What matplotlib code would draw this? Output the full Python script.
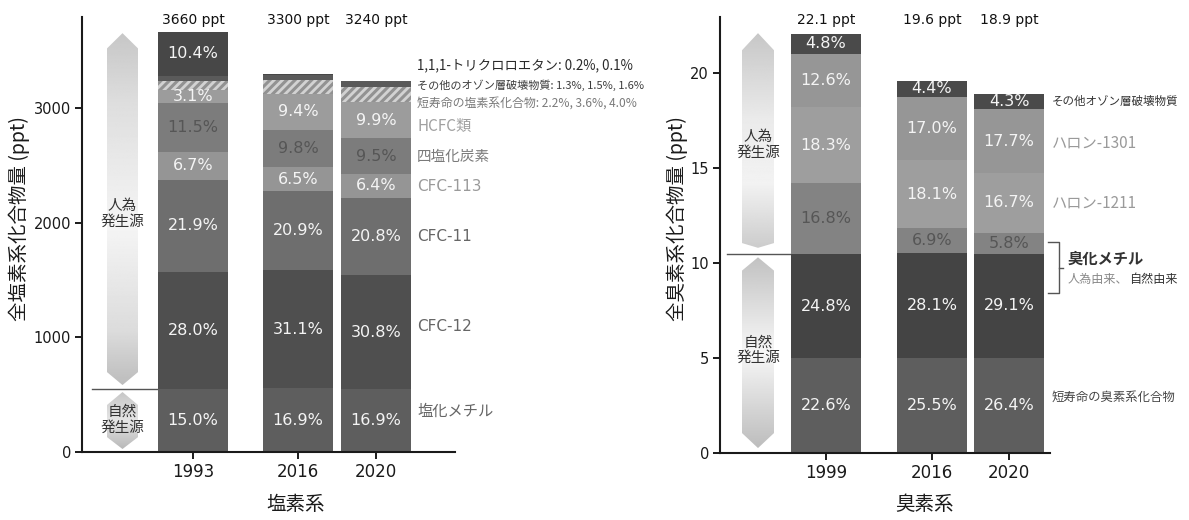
import numpy as np
import matplotlib
matplotlib.use('Agg')
import matplotlib.pyplot as plt
from matplotlib.patches import Polygon

plt.rcParams['font.family'] = ['DejaVu Sans', 'Noto Sans CJK JP']
plt.rcParams['hatch.linewidth'] = 2.2
JP = ['Noto Sans CJK JP', 'DejaVu Sans']

# ---------------- data ----------------
cl_years = ['1993', '2016', '2020']
cl_totals = [3660, 3300, 3240]
cl_methyl_chloride = [15.0, 16.9, 16.9]
cl_cfc12 = [28.0, 31.1, 30.8]
cl_cfc11 = [21.9, 20.9, 20.8]
cl_cfc113 = [6.7, 6.5, 6.4]
cl_ccl4 = [11.5, 9.8, 9.5]
cl_hcfc = [3.1, 9.4, 9.9]
cl_short = [2.2, 3.6, 4.0]
cl_other = [1.3, 1.5, 1.6]
cl_tce = [10.4, 0.2, 0.1]
cl_names = ['塩化メチル', 'CFC-12', 'CFC-11', 'CFC-113', '四塩化炭素', 'HCFC類',
            '短寿命の塩素系化合物', 'その他のオゾン層破壊物質', '1,1,1-トリクロロエタン']

br_years = ['1999', '2016', '2020']
br_totals = [22.1, 19.6, 18.9]
br_short = [22.6, 25.5, 26.4]
br_mebr_nat = [24.8, 28.1, 29.1]
br_mebr_anth = [16.8, 6.9, 5.8]
br_h1211 = [18.3, 18.1, 16.7]
br_h1301 = [12.6, 17.0, 17.7]
br_other = [4.8, 4.4, 4.3]
br_names = ['短寿命の臭素系化合物', '臭化メチル(自然由来)', '臭化メチル(人為由来)',
            'ハロン-1211', 'ハロン-1301', 'その他オゾン層破壊物質']

# ---------------- layout / style ----------------
W, H = 1189, 520
fig = plt.figure(figsize=(W / 100, H / 100), dpi=100)

def axes_px(x0, x1, y_top, y_bot):
    return fig.add_axes([x0 / W, 1 - y_bot / H, (x1 - x0) / W, (y_bot - y_top) / H])

axL = axes_px(82, 455, 17, 452)
axR = axes_px(720, 1050, 17, 453)
axL.set_xlim(82, 455); axL.set_ylim(0, 3794)
axR.set_xlim(720, 1050); axR.set_ylim(0, 22.95)

cl_x = [193, 298, 376]
br_x = [826, 932, 1009]
bar_w = 70

cl_series = [cl_methyl_chloride, cl_cfc12, cl_cfc11, cl_cfc113, cl_ccl4, cl_hcfc,
             cl_short, cl_other, cl_tce]
cl_colors = ['#5e5e5e', '#4f4f4f', '#6e6e6e', '#959595', '#7c7c7c', '#9c9c9c',
             '#d2d2d2', '#5a5a5a', '#474747']
cl_txtcol = ['#f4f4f4', '#f4f4f4', '#f4f4f4', '#f4f4f4', '#565656', '#f4f4f4',
             None, None, '#f4f4f4']

br_series = [br_short, br_mebr_nat, br_mebr_anth, br_h1211, br_h1301, br_other]
br_colors = ['#5e5e5e', '#444444', '#838383', '#9e9e9e', '#969696', '#4a4a4a']
br_txtcol = ['#f4f4f4', '#f4f4f4', '#565656', '#f4f4f4', '#f4f4f4', '#f4f4f4']


def draw_stack(ax, xs, totals, series, colors, txtcols, hatched_idx=None, min_label=0.0):
    bottoms = np.zeros(len(xs))
    centers = []
    for i, (vals, col) in enumerate(zip(series, colors)):
        h = np.array(vals) / 100.0 * np.array(totals)
        if i == hatched_idx:
            ax.bar(xs, h, bottom=bottoms, width=bar_w, facecolor=col,
                   edgecolor='#929292', hatch='////', linewidth=0, zorder=2)
        else:
            ax.bar(xs, h, bottom=bottoms, width=bar_w, color=col, linewidth=0, zorder=2)
        c = bottoms + h / 2
        centers.append(c)
        if txtcols[i] is not None:
            for x, v, cy in zip(xs, vals, c):
                if v >= min_label:
                    ax.text(x, cy, f'{v:.1f}%', ha='center', va='center',
                            fontsize=11.5, color=txtcols[i], zorder=3)
        bottoms = bottoms + h
    return centers


cl_centers = draw_stack(axL, cl_x, cl_totals, cl_series, cl_colors, cl_txtcol,
                        hatched_idx=6, min_label=3.0)
br_centers = draw_stack(axR, br_x, br_totals, br_series, br_colors, br_txtcol)

# totals above bars
for x, t in zip(cl_x, cl_totals):
    axL.text(x, 0.993, f'{t} ppt', transform=axL.get_xaxis_transform(),
             ha='center', va='center', fontsize=10, color='#111')
for x, t in zip(br_x, br_totals):
    axR.text(x, 0.993, f'{t} ppt', transform=axR.get_xaxis_transform(),
             ha='center', va='center', fontsize=10, color='#111')

# axes styling
for ax, xs, yrs, ticks in [(axL, cl_x, cl_years, [0, 1000, 2000, 3000]),
                           (axR, br_x, br_years, [0, 5, 10, 15, 20])]:
    for s in ['top', 'right']:
        ax.spines[s].set_visible(False)
    for s in ['left', 'bottom']:
        ax.spines[s].set_linewidth(1.5)
        ax.spines[s].set_color('#1a1a1a')
    ax.set_xticks(xs)
    ax.set_xticklabels(yrs, fontsize=12, color='#1a1a1a')
    ax.set_yticks(ticks)
    ax.set_yticklabels([str(t) for t in ticks], fontsize=10.5, color='#1a1a1a')
    ax.tick_params(axis='both', length=5, width=1.4, color='#1a1a1a', pad=3)
    ax.set_facecolor('none')

# axis titles
fig.text(19 / W, 1 - 219 / H, '全塩素系化合物量 (ppt)', rotation=90, ha='center',
         va='center', fontsize=14, family=JP, color='#1a1a1a')
fig.text(677 / W, 1 - 219 / H, '全臭素系化合物量 (ppt)', rotation=90, ha='center',
         va='center', fontsize=14, family=JP, color='#1a1a1a')
fig.text(296 / W, 1 - 505 / H, '塩素系', ha='center', va='center', fontsize=14,
         family=JP, color='#1a1a1a')
fig.text(925 / W, 1 - 505 / H, '臭素系', ha='center', va='center', fontsize=14,
         family=JP, color='#1a1a1a')


# gradient arrows
def grad_shape(ax, xc, w, y_top, y_sh_top, y_sh_bot, y_bot, prof_t, prof_v):
    verts = [(xc, y_top), (xc + w / 2, y_sh_top), (xc + w / 2, y_sh_bot), (xc, y_bot),
             (xc - w / 2, y_sh_bot), (xc - w / 2, y_sh_top)]
    poly = Polygon(verts, closed=True, facecolor='none', edgecolor='none')
    ax.add_patch(poly)
    t = np.linspace(0, 1, 300)
    v = np.interp(t, prof_t, prof_v)
    img = np.tile(v[:, None], (1, 2))
    im = ax.imshow(img, extent=[xc - w / 2, xc + w / 2, y_bot, y_top], origin='lower',
                   cmap='gray', vmin=0, vmax=1, aspect='auto', interpolation='bilinear',
                   zorder=1)
    im.set_clip_path(poly)

# left chart
grad_shape(axL, 122.5, 31, 3653, 3520, 697, 584,
           [0, 0.15, 0.45, 0.8, 1], [0.74, 0.86, 0.96, 0.87, 0.78])
grad_shape(axL, 122.5, 31, 523, 410, 130, 26,
           [0, 0.5, 1], [0.72, 0.9, 0.78])
axL.plot([92, 157], [cl_totals[0] * cl_methyl_chloride[0] / 100] * 2, color='#555',
         lw=1, zorder=1.5)
axL.text(122.5, 2075, '人為\n発生源', ha='center', va='center', fontsize=10.5,
         family=JP, color='#333', linespacing=1.15, zorder=3)
axL.text(122.5, 279, '自然\n発生源', ha='center', va='center', fontsize=10.5,
         family=JP, color='#333', linespacing=1.15, zorder=3)

# right chart
grad_shape(axR, 758, 32, 22.1, 21.2, 11.05, 10.8,
           [0, 0.3, 0.6, 1], [0.8, 0.95, 0.92, 0.78])
grad_shape(axR, 758, 32, 10.3, 9.6, 1.05, 0.26,
           [0, 0.5, 1], [0.74, 0.97, 0.76])
axR.plot([727, 791], [br_totals[0] * (br_short[0] + br_mebr_nat[0]) / 100] * 2,
         color='#555', lw=1, zorder=1.5)
axR.text(758, 16.2, '人為\n発生源', ha='center', va='center', fontsize=10.5,
         family=JP, color='#333', linespacing=1.15, zorder=3)
axR.text(758, 5.4, '自然\n発生源', ha='center', va='center', fontsize=10.5,
         family=JP, color='#333', linespacing=1.15, zorder=3)

# ---- species labels, left chart ----
lx = 417
left_lab = [(0, '#666666', 11, 9), (1, '#666666', 11, 6), (2, '#666666', 11, 0),
            (3, '#9a9a9a', 11, -1), (4, '#7a7a7a', 10.5, -1), (5, '#a0a0a0', 11, -5)]
for idx, col, fs, off in left_lab:
    axL.annotate(cl_names[idx], (lx, cl_centers[idx][2]), xytext=(0, off / 1.389),
                 textcoords='offset points', ha='left', va='center', fontsize=fs,
                 color=col, family=['DejaVu Sans', 'Noto Sans CJK JP'] if idx in (1, 2, 3)
                 else JP, annotation_clip=False)

top_lines = [
    (f'{cl_names[8]}: ' + ', '.join(f'{v:.1f}%' for v in cl_tce if v < 1),
     3375, 9.6, '#2a2a2a'),
    (f'{cl_names[7]}: ' + ', '.join(f'{v:.1f}%' for v in cl_other), 3200, 8.0, '#3c3c3c'),
    (f'{cl_names[6]}: ' + ', '.join(f'{v:.1f}%' for v in cl_short), 3044, 8.6, '#7a7a7a'),
]
for txt, y, fs, col in top_lines:
    axL.text(lx, y, txt, ha='left', va='center', fontsize=fs, color=col, family=JP)

# ---- species labels, right chart ----
rx = 1052
right_lab = [(5, '#333333', 8.3, 0), (4, '#9a9a9a', 11, -2), (3, '#9a9a9a', 11, 0),
             (0, '#444444', 8.9, 8)]
for idx, col, fs, off in right_lab:
    axR.annotate(br_names[idx], (rx, br_centers[idx][2]), xytext=(0, off / 1.389),
                 textcoords='offset points', ha='left', va='center', fontsize=fs,
                 color=col, family=JP, annotation_clip=False)

# bracket for methyl bromide
bx0, bx1, bx2 = 1048, 1059, 1063
by_top, by_bot, by_mid = 11.1, 8.42, 9.74
axR.plot([bx0, bx1, bx1, bx0], [by_top, by_top, by_bot, by_bot], color='#555', lw=1,
         clip_on=False)
axR.plot([bx1, bx2], [by_mid, by_mid], color='#555', lw=1, clip_on=False)
axR.text(1068, 10.2, '臭化メチル', ha='left', va='center', fontsize=11,
         fontweight='bold', color='#333', family=JP)
t1 = axR.text(1068, 9.15, '人為由来、', ha='left', va='center', fontsize=8.7,
              color='#888', family=JP)
axR.annotate('自然由来', xy=(1, 0.5), xycoords=t1, ha='left', va='center',
             fontsize=8.7, color='#333', family=JP)

fig.savefig('out.png', dpi=100)
